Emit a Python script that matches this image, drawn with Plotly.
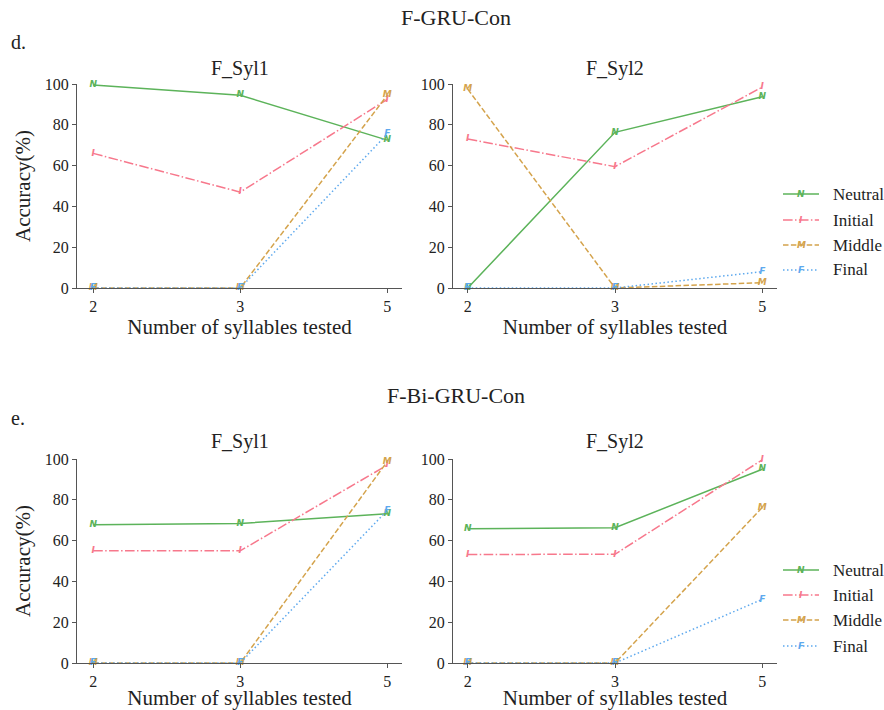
import plotly.graph_objects as go

W, H = 884, 710

# ---------------- data ----------------
x_labels = ["2", "3", "5"]
series_names = ["Neutral", "Initial", "Middle", "Final"]
series_letters = ["N", "I", "M", "F"]

# F-GRU-Con
gru_syl1_neutral = [99.5, 94.5, 72.5]
gru_syl1_initial = [66.0, 47.0, 92.5]
gru_syl1_middle = [0.0, 0.0, 94.5]
gru_syl1_final = [0.0, 0.0, 75.5]

gru_syl2_neutral = [0.0, 76.3, 93.8]
gru_syl2_initial = [73.0, 59.5, 98.5]
gru_syl2_middle = [97.5, 0.0, 2.6]
gru_syl2_final = [0.0, 0.0, 8.0]

# F-Bi-GRU-Con
bigru_syl1_neutral = [67.8, 68.4, 73.2]
bigru_syl1_initial = [55.0, 55.0, 97.0]
bigru_syl1_middle = [0.0, 0.0, 98.8]
bigru_syl1_final = [0.0, 0.0, 74.8]

bigru_syl2_neutral = [65.8, 66.3, 95.0]
bigru_syl2_initial = [53.2, 53.3, 99.6]
bigru_syl2_middle = [0.0, 0.0, 76.2]
bigru_syl2_final = [0.0, 0.0, 31.2]

# ---------------- style ----------------
colors = ["#5cb35a", "#f7788c", "#d4a34c", "#5ea9ee"]
dashes = ["solid", "9.6px,2.4px,1.5px,2.4px", "5.5px,2.4px", "1.5px,2.5px"]
SERIF = "Liberation Serif"
TXT = "#222222"
AX = "#555555"

def px_x(p):
    return p / W

def px_y(p):
    return 1 - p / H

fig = go.Figure()

panels = [
    ("x", "y", (77, 402), (288, 84), [gru_syl1_neutral, gru_syl1_initial, gru_syl1_middle, gru_syl1_final], True, [-0.11, 2.1]),
    ("x2", "y2", (453, 777), (288, 84), [gru_syl2_neutral, gru_syl2_initial, gru_syl2_middle, gru_syl2_final], False, [-0.1, 2.1]),
    ("x3", "y3", (77, 402), (663, 459), [bigru_syl1_neutral, bigru_syl1_initial, bigru_syl1_middle, bigru_syl1_final], True, [-0.11, 2.1]),
    ("x4", "y4", (453, 777), (663, 459), [bigru_syl2_neutral, bigru_syl2_initial, bigru_syl2_middle, bigru_syl2_final], False, [-0.1, 2.1]),
]

layout_axes = {}
for i, (xa, ya, xd, yd, data, ytitle, xr) in enumerate(panels):
    for k, vals in enumerate(data):
        fig.add_trace(go.Scatter(
            x=x_labels, y=vals, xaxis=xa, yaxis=ya,
            mode="lines+text", text=[series_letters[k]] * len(vals),
            textposition="middle center",
            textfont=dict(family="DejaVu Sans", size=9, color=colors[k], style="italic", weight="bold"),
            line=dict(color=colors[k], width=1.5, dash=dashes[k]),
            cliponaxis=False, showlegend=False, name=series_names[k],
        ))
    xkey = "xaxis" if xa == "x" else "xaxis" + xa[1:]
    ykey = "yaxis" if ya == "y" else "yaxis" + ya[1:]
    layout_axes[xkey] = dict(
        domain=[px_x(xd[0]), px_x(xd[1])], anchor=ya, type="category",
        range=xr, showgrid=False, zeroline=False, showline=True, linecolor=AX, linewidth=1.2,
        ticks="outside", ticklen=4, tickcolor=AX, tickwidth=1.2,
        tickfont=dict(family=SERIF, size=16, color=TXT),
        title=dict(text="Number of syllables tested", font=dict(family=SERIF, size=21, color=TXT), standoff=2),
        automargin=False,
    )
    layout_axes[ykey] = dict(
        domain=[px_y(yd[0]), px_y(yd[1])], anchor=xa,
        range=[0, 100], tickvals=[0, 20, 40, 60, 80, 100],
        showgrid=False, zeroline=False, showline=True, linecolor=AX, linewidth=1.2,
        ticks="outside", ticklen=4, tickcolor=AX, tickwidth=1.2,
        tickfont=dict(family=SERIF, size=16, color=TXT),
        title=dict(text="Accuracy(%)" if ytitle else "", font=dict(family=SERIF, size=21, color=TXT), standoff=8),
        automargin=False,
    )

annotations = []
def add_text(text, x, y, size, xanchor="center"):
    annotations.append(dict(text=text, x=px_x(x), y=px_y(y), xref="paper", yref="paper",
                            xanchor=xanchor, yanchor="middle", showarrow=False,
                            font=dict(family=SERIF, size=size, color=TXT)))

add_text("F-GRU-Con", 456, 18, 22)
add_text("d.", 9, 42, 20, "left")
add_text("F_Syl1", 240, 69, 20)
add_text("F_Syl2", 615, 69, 20)
add_text("F-Bi-GRU-Con", 456, 395, 22)
add_text("e.", 9, 418, 20, "left")
add_text("F_Syl1", 240, 442, 20)
add_text("F_Syl2", 615, 442, 20)

shapes = []
for rows in ([194, 220, 245, 270], [570, 595, 620, 646]):
    for k, ry in enumerate(rows):
        shapes.append(dict(type="line", xref="paper", yref="paper",
                           x0=px_x(783), x1=px_x(819), y0=px_y(ry), y1=px_y(ry),
                           line=dict(color=colors[k], width=1.5, dash=dashes[k])))
        annotations.append(dict(text=series_letters[k], x=px_x(801), y=px_y(ry), xref="paper", yref="paper",
                                xanchor="center", yanchor="middle", showarrow=False, bgcolor="rgba(0,0,0,0)",
                                font=dict(family="DejaVu Sans", size=9, color=colors[k], style="italic", weight="bold")))
        annotations.append(dict(text=series_names[k], x=px_x(831), y=px_y(ry), xref="paper", yref="paper",
                                xanchor="left", yanchor="middle", showarrow=False,
                                font=dict(family=SERIF, size=17, color=TXT)))

fig.update_layout(
    width=W, height=H, margin=dict(l=0, r=0, t=0, b=0),
    paper_bgcolor="white", plot_bgcolor="white",
    annotations=annotations, shapes=shapes, showlegend=False,
    **layout_axes,
)

fig.write_html("out.html")
